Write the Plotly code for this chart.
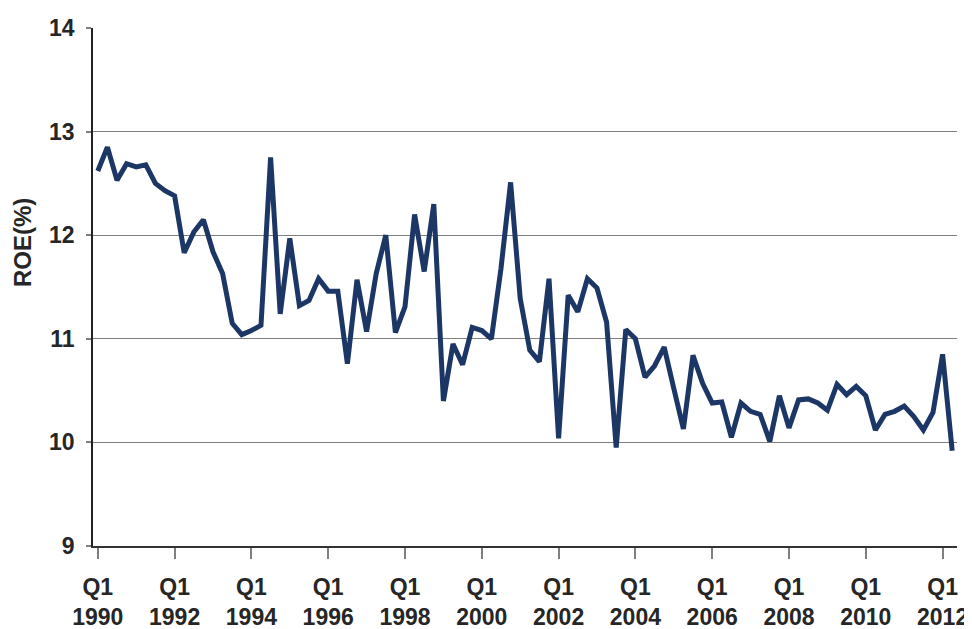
import plotly.graph_objects as go

years = list(range(1990, 2013))
quarters = [f"{y} Q{q}" for y in years for q in range(1, 5)][:90]

# ROE (%) par trimestre, Q1 1990 - Q2 2012
roe = [
    12.62, 12.85, 12.53, 12.69, 12.66, 12.68, 12.50, 12.43,
    12.38, 11.83, 12.03, 12.15, 11.84, 11.63, 11.15, 11.04,
    11.08, 11.13, 12.75, 11.24, 11.97, 11.32, 11.37, 11.58,
    11.46, 11.46, 10.76, 11.57, 11.07, 11.63, 12.00, 11.06,
    11.31, 12.20, 11.65, 12.30, 10.40, 10.95, 10.75, 11.11,
    11.08, 11.00, 11.68, 12.51, 11.39, 10.89, 10.78, 11.58,
    10.04, 11.42, 11.26, 11.58, 11.49, 11.16, 9.95, 11.09,
    11.00, 10.63, 10.74, 10.92, 10.52, 10.13, 10.84, 10.57,
    10.38, 10.39, 10.05, 10.38, 10.30, 10.27, 10.01, 10.45,
    10.14, 10.41, 10.42, 10.38, 10.31, 10.56, 10.46, 10.54,
    10.45, 10.12, 10.27, 10.30, 10.35, 10.25, 10.12, 10.29,
    10.85, 9.92,
]

tick_years = list(range(1990, 2013, 2))
tick_vals = [f"{y} Q1" for y in tick_years]
tick_text = [f"Q1<br>{y}" for y in tick_years]

font = dict(family="Arial, Liberation Sans, sans-serif", size=23, color="#262626", weight="bold")

fig = go.Figure()
fig.add_trace(go.Scatter(x=quarters, y=roe, mode="lines",
                         line=dict(color="#1c3766", width=5), showlegend=False))

# titre de l'axe y placé un peu au-dessus du centre, comme dans l'original
fig.add_annotation(text="ROE(%)", textangle=-90, showarrow=False,
                   xref="paper", yref="paper", x=-0.081, y=0.585,
                   xanchor="center", yanchor="middle",
                   font=dict(font, size=24))

# la page ajoute une marge de 8px autour du graphique
fig.update_layout(
    width=964, height=621,
    margin=dict(l=85, r=15, t=20, b=83),
    paper_bgcolor="white", plot_bgcolor="white",
    font=font,
    xaxis=dict(type="category", range=[-0.5, 89.5], automargin=False,
               tickvals=tick_vals, ticktext=tick_text,
               tickfont=font, ticks="outside", ticklen=11, tickwidth=2,
               tickcolor="#7f7f7f", showgrid=False, showline=True,
               linecolor="#333333", linewidth=1.5, ticklabelstandoff=9),
    yaxis=dict(range=[9, 14], dtick=1, tickfont=font, automargin=False,
               ticks="outside", ticklen=5, tickcolor="#7f7f7f", tickwidth=1.5,
               showgrid=True, gridcolor="#7f7f7f", gridwidth=1.3,
               showline=True, linecolor="#222222", linewidth=1.5,
               zeroline=False, ticklabelstandoff=7),
)

fig.write_html("out.html")
